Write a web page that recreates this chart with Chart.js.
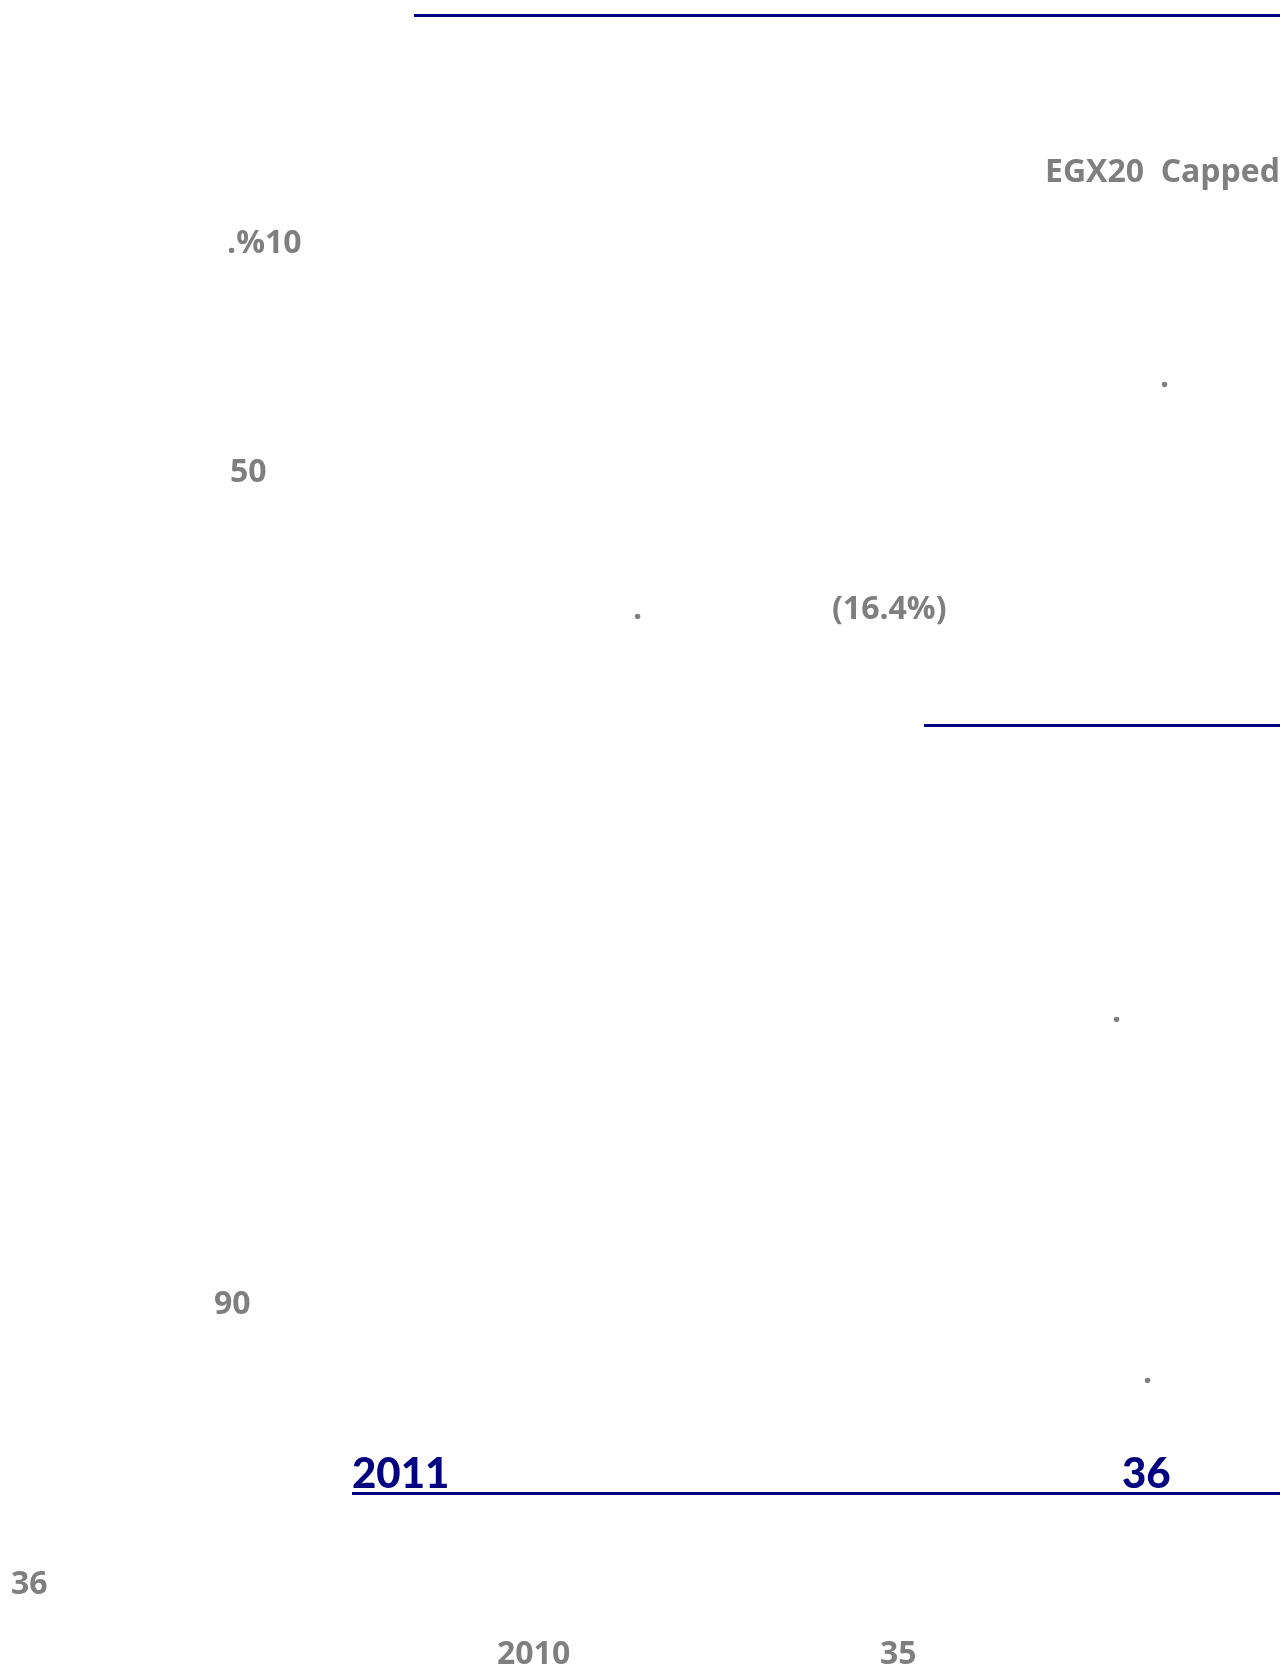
<!DOCTYPE html>
<html>
<head>
<meta charset="utf-8">
<script src="https://cdn.jsdelivr.net/npm/chart.js@4.4.1/dist/chart.umd.min.js"></script>
<style>
  html, body { margin:0; padding:0; width:1283px; height:1670px; overflow:hidden; background:#ffffff; }
  .t { position:absolute; font-family: "Open Sans", Lato, sans-serif; font-weight:700; color:#7f7f7f; font-size:32px; line-height:32px; white-space:pre; }
  .n { position:absolute; font-family: Lato, "Open Sans", sans-serif; font-weight:900; color:#000080; font-size:42px; line-height:42px; white-space:pre; }
  .rule { position:absolute; background:#000080; height:3px; }
  #wrap { position:absolute; left:0; top:0; width:1283px; height:1670px; pointer-events:none; }
</style>
</head>
<body>
<div id="wrap"><canvas id="c"></canvas></div>

<div class="rule" style="left:414px; top:14px; width:866px;"></div>
<div class="t" style="right:3px; top:154px;">EGX20  Capped</div>
<div class="t" style="left:227px; top:225px;">.%10</div>
<div class="t" style="left:1160px; top:359px;">.</div>
<div class="t" style="left:230px; top:454px;">50</div>
<div class="t" style="left:633px; top:591px;">.</div>
<div class="t" style="left:832px; top:591px;">(16.4%)</div>
<div class="rule" style="left:924px; top:724px; width:356px;"></div>
<div class="t" style="left:1112px; top:994px;">.</div>
<div class="t" style="left:214px; top:1286px;">90</div>
<div class="t" style="left:1143px; top:1355px;">.</div>
<div class="n" style="left:352px; top:1451px;">2011</div>
<div class="n" style="left:1122px; top:1451px;">36</div>
<div class="rule" style="left:352px; top:1492px; width:928px;"></div>
<div class="t" style="left:11px; top:1566px;">36</div>
<div class="t" style="left:497px; top:1636px;">2010</div>
<div class="t" style="left:880px; top:1636px;">35</div>

<script>
// The reference page carries no plotted series; only these text values are visible.
const years = [2010, 2011];
const counts = [35, 36];
const labels = [];
const values = [];

new Chart(document.getElementById('c'), {
  type: 'bar',
  data: { labels: labels, datasets: [{ data: values, backgroundColor: '#000080' }] },
  options: {
    responsive: true, maintainAspectRatio: false, animation: false,
    plugins: { legend: { display: false }, tooltip: { enabled: false } },
    scales: { x: { display: false }, y: { display: false } }
  }
});
</script>
</body>
</html>
